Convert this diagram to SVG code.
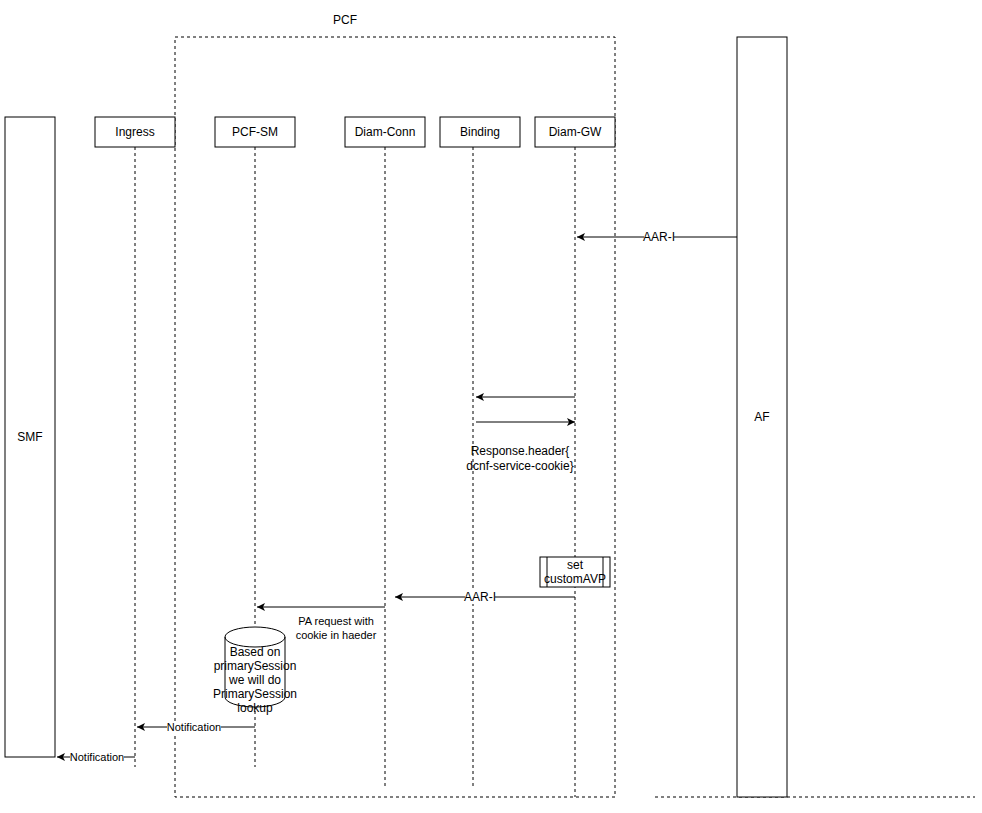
<svg xmlns="http://www.w3.org/2000/svg" width="982" height="813" viewBox="0 0 982 813">
<defs>
<marker id="ah" markerWidth="10" markerHeight="10" refX="8" refY="5" orient="auto" markerUnits="userSpaceOnUse"><path d="M0,1 L8,5 L0,9 L2,5 Z" fill="#000"/></marker>
</defs>
<style>
text{font-family:"Liberation Sans",Arial,sans-serif;font-size:12px;fill:#000;text-anchor:middle}
.box{fill:#fff;stroke:#000;stroke-width:1}
.life{stroke:#000;stroke-dasharray:3 3;fill:none}
.msg{stroke:#000;fill:none;marker-end:url(#ah)}
.lbl{fill:#fff}
.sm{font-size:11px}
</style>
<rect width="982" height="813" fill="#fff"/>
<g id="pcf-frame">
<rect x="175" y="37" width="440" height="760" fill="none" stroke="#000" stroke-dasharray="3 3"/>
<line x1="655" y1="797" x2="975" y2="797" stroke="#000" stroke-dasharray="3 3"/>
<text x="345" y="24">PCF</text>
</g>
<g id="lifelines">
<line class="life" x1="135" y1="147" x2="135" y2="767"/>
<line class="life" x1="255" y1="147" x2="255" y2="767"/>
<line class="life" x1="385" y1="147" x2="385" y2="787"/>
<line class="life" x1="473" y1="147" x2="473" y2="787"/>
<line class="life" x1="575" y1="147" x2="575" y2="797"/>
</g>
<g id="SMF"><rect class="box" x="5" y="117" width="50" height="640"/><text x="30" y="441">SMF</text></g>
<g id="AF"><rect class="box" x="737" y="37" width="50" height="760"/><text x="762" y="421">AF</text></g>
<g id="Ingress"><rect class="box" x="95" y="117" width="80" height="30"/><text x="135" y="136">Ingress</text></g>
<g id="PCF-SM"><rect class="box" x="215" y="117" width="80" height="30"/><text x="255" y="136">PCF-SM</text></g>
<g id="Diam-Conn"><rect class="box" x="345" y="117" width="80" height="30"/><text x="385" y="136">Diam-Conn</text></g>
<g id="Binding"><rect class="box" x="440" y="117" width="80" height="30"/><text x="480" y="136">Binding</text></g>
<g id="Diam-GW"><rect class="box" x="535" y="117" width="80" height="30"/><text x="575" y="136">Diam-GW</text></g>
<g id="set-customAVP">
<rect class="box" x="540" y="557" width="70" height="30"/>
<line x1="547" y1="557" x2="547" y2="587" stroke="#000"/>
<line x1="603" y1="557" x2="603" y2="587" stroke="#000"/>
<text x="575" y="569">set</text><text x="575" y="583">customAVP</text>
</g>
<g id="lookup">
<path d="M225,637 A30,10 0 0 1 285,637 L285,697 A30,10 0 0 1 225,697 Z" fill="#fff" stroke="#000"/>
<path d="M225,637 A30,10 0 0 0 285,637" fill="none" stroke="#000"/>
<text x="255" y="656">Based on</text>
<text x="255" y="670">primarySession</text>
<text x="255" y="684">we will do</text>
<text x="255" y="698">PrimarySession</text>
<text x="255" y="712">lookup</text>
</g>
<g id="connectors">
<line class="msg" x1="737" y1="237" x2="577" y2="237"/>
<rect class="lbl" x="644" y="230" width="30" height="14"/><text x="659" y="241">AAR-I</text>
<line class="msg" x1="575" y1="397" x2="476" y2="397"/>
<line class="msg" x1="476" y1="422" x2="575" y2="422"/>
<text x="520" y="455">Response.header{</text>
<text x="520" y="470">dcnf-service-cookie}</text>
<line class="msg" x1="575" y1="597" x2="395" y2="597"/>
<rect class="lbl" x="465" y="590" width="30" height="14"/><text x="480" y="601">AAR-I</text>
<line class="msg" x1="385" y1="607" x2="257" y2="607"/>
<text class="sm" x="336" y="625">PA request with</text>
<text class="sm" x="336" y="639">cookie in haeder</text>
<line class="msg" x1="255" y1="727" x2="137" y2="727"/>
<rect class="lbl" x="167" y="721" width="54" height="13"/><text class="sm" x="194" y="731">Notification</text>
<line class="msg" x1="135" y1="757" x2="57" y2="757"/>
<rect class="lbl" x="70" y="751" width="54" height="13"/><text class="sm" x="97" y="761">Notification</text>
</g>
</svg>
